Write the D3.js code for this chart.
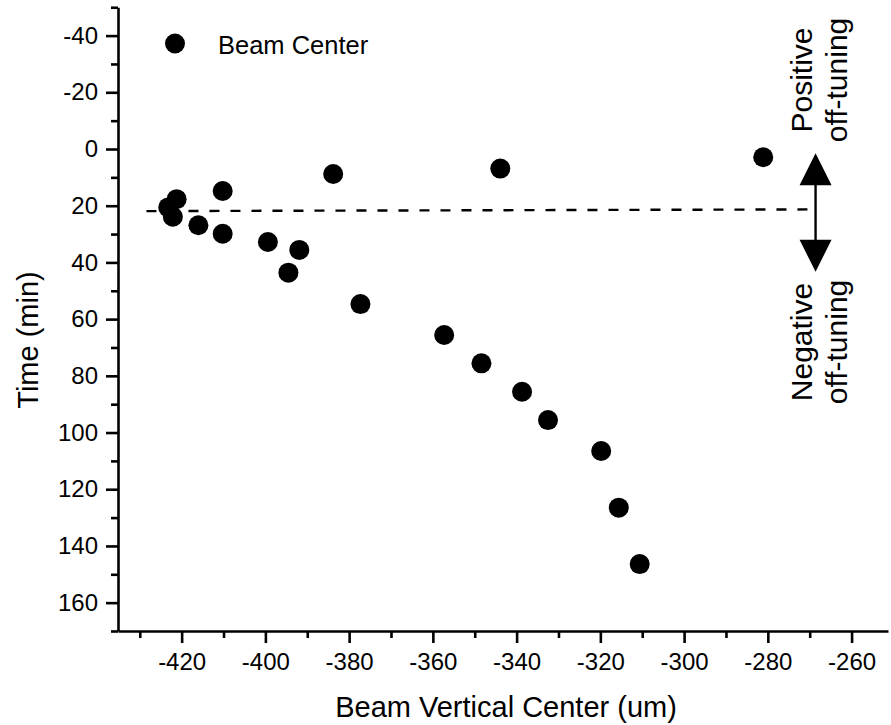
<!DOCTYPE html>
<html>
<head>
<meta charset="utf-8">
<script src="https://cdn.jsdelivr.net/npm/d3@7"></script>
<style>
  html, body { margin: 0; padding: 0; background: #fff; }
  svg { display: block; font-family: "Liberation Sans", Arial, sans-serif; }
</style>
</head>
<body>
<svg id="chart" width="891" height="725"></svg>
<script>
// Beam vertical centre (um) and elapsed time (min) for each measurement
const beamX = [-421.2, -423.2, -422.1, -416.0, -410.2, -410.2, -399.4, -391.9, -394.5, -383.8,
               -377.3, -357.3, -348.4, -343.9, -338.7, -332.5, -319.8, -315.6, -310.6, -281.1];
const timeMin = [17.7, 20.6, 23.9, 26.9, 14.8, 29.9, 32.8, 35.6, 43.6, 8.8,
                 54.7, 65.6, 75.6, 6.9, 85.6, 95.6, 106.5, 126.5, 146.4, 2.9];

// Tuning reference line (dashed) endpoints
const refLineX = [-428.4, -269.2];
const refLineY = [21.9, 21.3];

// Double-headed arrow marking the off-tuning directions
const arrowX = -268.6;
const arrowY = [1.5, 43.3];

// Axis ticks
const xTicks = [-420, -400, -380, -360, -340, -320, -300, -280, -260];
const xMinorTicks = [-430, -410, -390, -370, -350, -330, -310, -290, -270];
const yTicks = [-40, -20, 0, 20, 40, 60, 80, 100, 120, 140, 160];
const yMinorTicks = [-50, -30, -10, 10, 30, 50, 70, 90, 110, 130, 150, 170];

const svg = d3.select("#chart");

const x = d3.scaleLinear().domain([-435.2, -251.3]).range([118, 888]);
const y = d3.scaleLinear().domain([-50, 170]).range([7.25, 631]);

const axisStroke = 2.6;

// Minor ticks
svg.append("g")
  .attr("transform", `translate(0,${y(170)})`)
  .call(d3.axisBottom(x).tickValues(xMinorTicks).tickSize(7).tickSizeOuter(0).tickFormat(""))
  .call(g => g.select(".domain").remove());
svg.append("g")
  .attr("transform", `translate(${x(-435.2)},0)`)
  .call(d3.axisLeft(y).tickValues(yMinorTicks).tickSize(7).tickSizeOuter(0).tickFormat(""))
  .call(g => g.select(".domain").remove());

// Major axes
const xAxis = svg.append("g")
  .attr("transform", `translate(0,${y(170)})`)
  .call(d3.axisBottom(x).tickValues(xTicks).tickSize(12).tickSizeOuter(0).tickPadding(10).tickFormat(d3.format("d")));
const yAxis = svg.append("g")
  .attr("transform", `translate(${x(-435.2)},0)`)
  .call(d3.axisLeft(y).tickValues(yTicks).tickSize(12).tickSizeOuter(0).tickPadding(8).tickFormat(d3.format("d")));

svg.selectAll(".tick line").attr("stroke", "#000").attr("stroke-width", axisStroke);
svg.selectAll(".domain").attr("stroke", "#000").attr("stroke-width", axisStroke);
[xAxis, yAxis].forEach(a => a.selectAll(".tick text")
  .attr("fill", "#000")
  .style("font-size", "24px")
  .style("font-family", "'Liberation Sans', Arial, sans-serif"));
// Plain hyphen-minus like the original labels
svg.selectAll(".tick text").text(function () { return d3.select(this).text().replace("\u2212", "-"); });

// Axis titles
svg.append("text")
  .attr("x", 506).attr("y", 717)
  .attr("text-anchor", "middle")
  .style("font-size", "29px")
  .text("Beam Vertical Center (um)");
svg.append("text")
  .attr("transform", "translate(38,340) rotate(-90)")
  .attr("text-anchor", "middle")
  .style("font-size", "29px")
  .text("Time (min)");

// Dashed reference line
svg.append("line")
  .attr("x1", x(refLineX[0])).attr("y1", y(refLineY[0]))
  .attr("x2", x(refLineX[1])).attr("y2", y(refLineY[1]))
  .attr("stroke", "#000").attr("stroke-width", 2.4)
  .attr("stroke-dasharray", "10,11");

// Data points
svg.append("g").selectAll("circle")
  .data(beamX.map((b, i) => [b, timeMin[i]]))
  .join("circle")
  .attr("cx", d => x(d[0]))
  .attr("cy", d => y(d[1]))
  .attr("r", 10)
  .attr("fill", "#000");

// Off-tuning arrow
const arrowPx = x(arrowX), arrowTop = y(arrowY[0]), arrowBot = y(arrowY[1]);
const head = 32, halfW = 16;
svg.append("line")
  .attr("x1", arrowPx).attr("y1", arrowTop + head - 2)
  .attr("x2", arrowPx).attr("y2", arrowBot - head + 2)
  .attr("stroke", "#000").attr("stroke-width", 2.4);
svg.append("path")
  .attr("d", `M${arrowPx},${arrowTop} L${arrowPx + halfW},${arrowTop + head} L${arrowPx - halfW},${arrowTop + head} Z`)
  .attr("fill", "#000");
svg.append("path")
  .attr("d", `M${arrowPx},${arrowBot} L${arrowPx + halfW},${arrowBot - head} L${arrowPx - halfW},${arrowBot - head} Z`)
  .attr("fill", "#000");

// Annotation labels
function rotatedLabel(cx, cy, lines) {
  const t = svg.append("text")
    .attr("transform", `translate(${cx},${cy}) rotate(-90)`)
    .attr("text-anchor", "middle")
    .style("font-size", "30px");
  lines.forEach((s, i) => t.append("tspan").attr("x", 0).attr("y", i * 35).text(s));
}
rotatedLabel(812, 80, ["Positive", "off-tuning"]);
rotatedLabel(812, 342, ["Negative", "off-tuning"]);

// Legend
svg.append("circle").attr("cx", 175).attr("cy", 43.5).attr("r", 10).attr("fill", "#000");
svg.append("text").attr("x", 218).attr("y", 53.5).style("font-size", "25.5px").text("Beam Center");
</script>
</body>
</html>
